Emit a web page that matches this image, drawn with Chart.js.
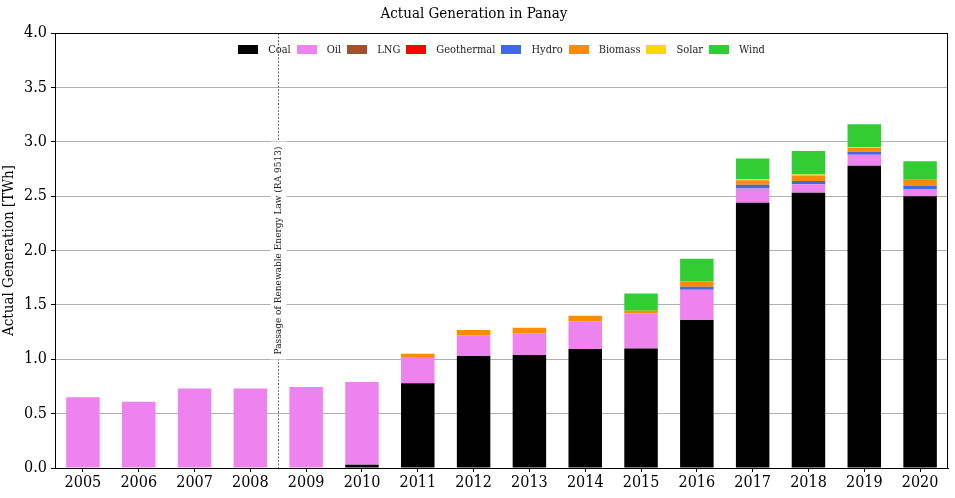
<!DOCTYPE html>
<html>
<head>
<meta charset="utf-8">
<script src="https://cdn.jsdelivr.net/npm/chart.js@4"></script>
<style>
  body { margin: 0; background: #fff; }
</style>
</head>
<body>
<canvas id="panayChart" width="955" height="498"></canvas>
<script>
//categories
const years = ['2005', '2006', '2007', '2008', '2009', '2010', '2011', '2012',
               '2013', '2014', '2015', '2016', '2017', '2018', '2019', '2020'];

//generation per source [TWh]
const coal       = [0, 0, 0, 0, 0, 0.03, 0.78, 1.03, 1.04, 1.095, 1.10, 1.36, 2.44, 2.53, 2.78, 2.50];
const oil        = [0.65, 0.61, 0.73, 0.73, 0.745, 0.76, 0.24, 0.19, 0.20, 0.255, 0.32, 0.28, 0.13, 0.08, 0.10, 0.065];
const lng        = [0, 0, 0, 0, 0, 0, 0, 0, 0, 0, 0, 0, 0, 0, 0, 0];
const geothermal = [0, 0, 0, 0, 0, 0, 0, 0, 0, 0, 0, 0, 0, 0, 0, 0];
const hydro      = [0, 0, 0, 0, 0, 0, 0, 0, 0, 0, 0, 0.027, 0.035, 0.03, 0.028, 0.028];
const biomass    = [0, 0, 0, 0, 0, 0, 0.03, 0.05, 0.05, 0.05, 0.025, 0.048, 0.04, 0.05, 0.034, 0.057];
const solar      = [0, 0, 0, 0, 0, 0, 0, 0, 0, 0, 0, 0, 0.01, 0.01, 0.008, 0];
const wind       = [0, 0, 0, 0, 0, 0, 0, 0, 0, 0, 0.16, 0.21, 0.19, 0.215, 0.21, 0.17];

//y axis ticks
const yTicks = [0, 0.5, 1.0, 1.5, 2.0, 2.5, 3.0, 3.5, 4.0];

//annotation: between 2008 and 2009
const lawText = 'Passage of Renewable Energy Law (RA 9513)';
const lawPosition = 3.5;
const lawTextY = 2.0;

const serif = "'DejaVu Serif Condensed', 'DejaVu Serif', serif";
Chart.defaults.font.family = serif;
Chart.defaults.color = '#000';

//frame round the plot area
const framePlugin = {
    id: 'frame',
    afterDraw(chart) {
        const a = chart.chartArea;
        const ctx = chart.ctx;
        ctx.save();
        ctx.strokeStyle = '#000';
        ctx.lineWidth = 1;
        ctx.strokeRect(Math.round(a.left) + 0.5, Math.round(a.top) + 0.5,
                       Math.round(a.right - a.left) - 1, Math.round(a.bottom - a.top));
        ctx.restore();
    }
};

//dashed line plus rotated label for the law
const lawPlugin = {
    id: 'law',
    beforeDatasetsDraw(chart) {
        const x = Math.round(chart.scales.x.getPixelForValue(lawPosition)) + 0.5;
        const yc = chart.scales.y.getPixelForValue(lawTextY);
        const a = chart.chartArea;
        const ctx = chart.ctx;
        ctx.save();
        ctx.strokeStyle = '#444';
        ctx.lineWidth = 0.8;
        ctx.setLineDash([2, 1.5]);
        ctx.beginPath();
        ctx.moveTo(x, a.top);
        ctx.lineTo(x, a.bottom);
        ctx.stroke();
        ctx.setLineDash([]);

        ctx.font = '10px ' + serif;
        const w = ctx.measureText(lawText).width;
        ctx.translate(x, yc);
        ctx.rotate(-Math.PI / 2);
        ctx.fillStyle = '#fff';
        ctx.fillRect(-w / 2 - 5, -8, w + 10, 16);
        ctx.fillStyle = '#222';
        ctx.textAlign = 'center';
        ctx.textBaseline = 'middle';
        ctx.fillText(lawText, 0, 0);
        ctx.restore();
    }
};

//one-row legend inside the top of the plot area
const rowLegendPlugin = {
    id: 'rowLegend',
    afterDraw(chart) {
        const a = chart.chartArea;
        const ctx = chart.ctx;
        const boxW = 20, boxH = 9, textGap = 10, itemGap = 6;
        ctx.save();
        ctx.font = '11px ' + serif;
        const sets = chart.data.datasets;
        const widths = sets.map(d => boxW + textGap + ctx.measureText(d.label).width);
        const total = widths.reduce((s, w) => s + w, 0) + itemGap * (sets.length - 1);
        let x = (a.left + a.right) / 2 - total / 2;
        const yMid = a.top + 16;
        ctx.textBaseline = 'middle';
        ctx.textAlign = 'left';
        sets.forEach((d, i) => {
            ctx.fillStyle = d.backgroundColor;
            ctx.fillRect(Math.round(x), Math.round(yMid - boxH / 2), boxW, boxH);
            ctx.fillStyle = '#222';
            ctx.fillText(d.label, x + boxW + textGap, yMid + 1);
            x += widths[i] + itemGap;
        });
        ctx.restore();
    }
};

function makeSet(label, data, color) {
    return {
        label: label,
        data: data,
        backgroundColor: color,
        borderWidth: 0,
        categoryPercentage: 1.0,
        barPercentage: 0.6
    };
}

var panayConfig = {
    type: 'bar',
    data: {
        labels: years,
        datasets: [
            makeSet('Coal', coal, '#000000'),
            makeSet('Oil', oil, '#EE82EE'),
            makeSet('LNG', lng, '#A0522D'),
            makeSet('Geothermal', geothermal, '#FF0000'),
            makeSet('Hydro', hydro, '#4169E1'),
            makeSet('Biomass', biomass, '#FF8C00'),
            makeSet('Solar', solar, '#FFD700'),
            makeSet('Wind', wind, '#32CD32')
        ]
    },
    options: {
        responsive: false,
        animation: false,
        layout: {
            padding: { right: 7 }
        },
        scales: {
            x: {
                stacked: true,
                border: { color: '#000' },
                grid: {
                    drawOnChartArea: false,
                    offset: false,
                    tickLength: 4,
                    tickColor: '#000'
                },
                ticks: {
                    font: { size: 16 },
                    padding: 1,
                    maxRotation: 0
                },
                afterFit(scale) { scale.height = 30; }
            },
            y: {
                stacked: true,
                min: 0,
                max: 4,
                border: { color: '#000' },
                grid: {
                    color: '#b0b0b0',
                    tickLength: 4,
                    tickColor: '#000'
                },
                afterBuildTicks(scale) {
                    scale.ticks = yTicks.map(v => ({ value: v }));
                },
                ticks: {
                    font: { size: 16 },
                    padding: 4,
                    callback: v => Number(v).toFixed(1)
                },
                title: {
                    display: true,
                    text: 'Actual Generation [TWh]',
                    font: { size: 15 },
                    padding: 0
                },
                afterFit(scale) { scale.width = 55; }
            }
        },
        plugins: {
            title: {
                display: true,
                text: 'Actual Generation in Panay',
                font: { size: 15, weight: 'normal' },
                padding: { top: 5, bottom: 10 }
            },
            legend: { display: false },
            tooltip: { enabled: false }
        }
    },
    plugins: [framePlugin, lawPlugin, rowLegendPlugin]
};

//send plot to front-end
window.onload = function() {
    var panayctx = document.getElementById('panayChart').getContext('2d');
    window.panayChart = new Chart(panayctx, panayConfig);
};
</script>
</body>
</html>
